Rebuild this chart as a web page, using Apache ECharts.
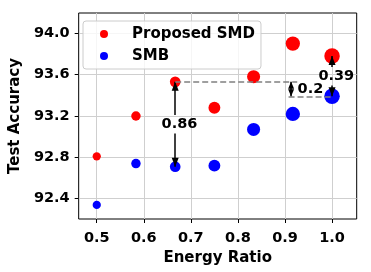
<!DOCTYPE html>
<html><head><meta charset="utf-8">
<script src="https://cdn.jsdelivr.net/npm/echarts@6/dist/echarts.min.js"></script>
<style>html,body{margin:0;padding:0;background:#fff}#c{width:371px;height:272px}</style>
</head><body><div id="c"></div>
<script>
const energyRatio = [0.5, 0.5833, 0.6667, 0.75, 0.8333, 0.9167, 1.0];
const smdAcc = [92.81, 93.20, 93.53, 93.28, 93.58, 93.90, 93.78];
const smbAcc = [92.34, 92.74, 92.71, 92.72, 93.07, 93.22, 93.39];
const xTicks = [0.5, 0.6, 0.7, 0.8, 0.9, 1.0];
const yTicks = [92.4, 92.8, 93.2, 93.6, 94.0];
const gapLabels = ['0.86', '0.2', '0.39'];
const seriesNames = ['Proposed SMD', 'SMB'];

const FONT = 'DejaVu Sans';
const chart = echarts.init(document.getElementById('c'), null, {renderer: 'canvas'});

const pairs = (xs, ys) => xs.map((x, i) => [x, ys[i]]);
const sizeFn = v => 1 + 14.5 * v[0];

const arrowStyle = {color: '#000', width: 1.5, type: 'solid'};
const dashStyle = {color: '#808080', width: 1.7, type: [6, 3]};
const tip = (c) => ({coord: c, symbol: 'triangle', symbolSize: [7, 9], symbolOffset: [0, 4.5]});
const nosym = (c, ls) => ({coord: c, symbol: 'none', lineStyle: ls});

const pad = 0.09;
const a = 2, b = 6;
const xa = energyRatio[a], midA = (smdAcc[a] + smbAcc[a]) / 2;
const xb = energyRatio[b], midB = (smdAcc[b] + smbAcc[b]) / 2;
const xc = 0.913, midC = (smdAcc[a] + smbAcc[b]) / 2;

const markLineData = [
  [nosym([xa, midA + pad], arrowStyle), tip([xa, smdAcc[a]])],
  [nosym([xa, midA - pad], arrowStyle), tip([xa, smbAcc[a]])],
  [nosym([xb, midB + pad], arrowStyle), tip([xb, smdAcc[b]])],
  [nosym([xb, midB - pad], arrowStyle), tip([xb, smbAcc[b]])],
  [nosym([xa, smdAcc[a]], dashStyle), {coord: [0.926, smdAcc[a]], symbol: 'none'}],
  [nosym([0.9076, smbAcc[b]], dashStyle), {coord: [xb, smbAcc[b]], symbol: 'none'}],
  [Object.assign(tip([xc, smdAcc[a]]), {lineStyle: arrowStyle, symbolSize: [6, 7], symbolOffset: [0, 3.5]}),
   Object.assign(tip([xc, smbAcc[b]]), {symbolSize: [6, 7], symbolOffset: [0, 3.5]})]
];

const markPointData = [
  {name: gapLabels[0], coord: [xa + 0.009, midA]},
  {name: gapLabels[1], coord: [0.954, midC]},
  {name: gapLabels[2], coord: [xb + 0.009, midB]}
];

const labelFont = {fontFamily: FONT, fontWeight: 'bold', fontSize: 14.5, color: '#000'};

chart.setOption({
  animation: false,
  backgroundColor: '#fff',
  grid: {left: 75, right: 14.3, top: 13, bottom: 53, show: true, borderColor: '#000', borderWidth: 1, backgroundColor: 'transparent'},
  legend: {
    left: 83, top: 21, orient: 'vertical',
    data: seriesNames,
    itemWidth: 8, itemHeight: 8, itemGap: 4,
    icon: 'circle',
    padding: [4, 6, 4, 17],
    backgroundColor: 'rgba(255,255,255,0.8)',
    borderColor: '#cccccc', borderWidth: 1, borderRadius: 3,
    textStyle: {fontFamily: FONT, fontWeight: 'bold', fontSize: 15, color: '#000', lineHeight: 18, padding: [0, 0, 0, 19]}
  },
  xAxis: {
    type: 'value', min: 0.4616, max: 1.0524,
    name: 'Energy Ratio', nameLocation: 'middle', nameGap: 25,
    nameTextStyle: {fontFamily: FONT, fontWeight: 'bold', fontSize: 15, color: '#000'},
    axisLine: {show: false},
    axisTick: {show: true, length: 4, lineStyle: {color: '#000'}, customValues: xTicks},
    axisLabel: Object.assign({margin: 12, customValues: xTicks, formatter: v => v.toFixed(1)}, labelFont),
    splitLine: {show: true, lineStyle: {color: '#cfcfcf', width: 1}}
  },
  yAxis: {
    type: 'value', min: 92.204, max: 94.196,
    name: 'Test Accuracy', nameLocation: 'middle', nameGap: 54,
    nameTextStyle: {fontFamily: FONT, fontWeight: 'bold', fontSize: 15, color: '#000'},
    axisLine: {show: false},
    axisTick: {show: true, length: 4, lineStyle: {color: '#000'}, customValues: yTicks},
    axisLabel: Object.assign({margin: 9, customValues: yTicks, formatter: v => v.toFixed(1)}, labelFont),
    splitLine: {show: true, lineStyle: {color: '#cfcfcf', width: 1}}
  },
  series: [
    {
      name: seriesNames[0], type: 'scatter', data: pairs(energyRatio, smdAcc),
      symbolSize: sizeFn, itemStyle: {color: '#ff0000', opacity: 1}, z: 3,
      markLine: {silent: true, animation: false, label: {show: false}, emphasis: {disabled: true}, data: markLineData},
      markPoint: {
        silent: true, animation: false, symbol: 'circle', symbolSize: 1,
        itemStyle: {color: 'rgba(0,0,0,0)'},
        label: Object.assign({show: true, position: 'inside', formatter: p => p.name}, labelFont),
        data: markPointData
      }
    },
    {
      name: seriesNames[1], type: 'scatter', data: pairs(energyRatio, smbAcc),
      symbolSize: sizeFn, itemStyle: {color: '#0000ff', opacity: 1}, z: 3
    }
  ]
});
</script></body></html>
